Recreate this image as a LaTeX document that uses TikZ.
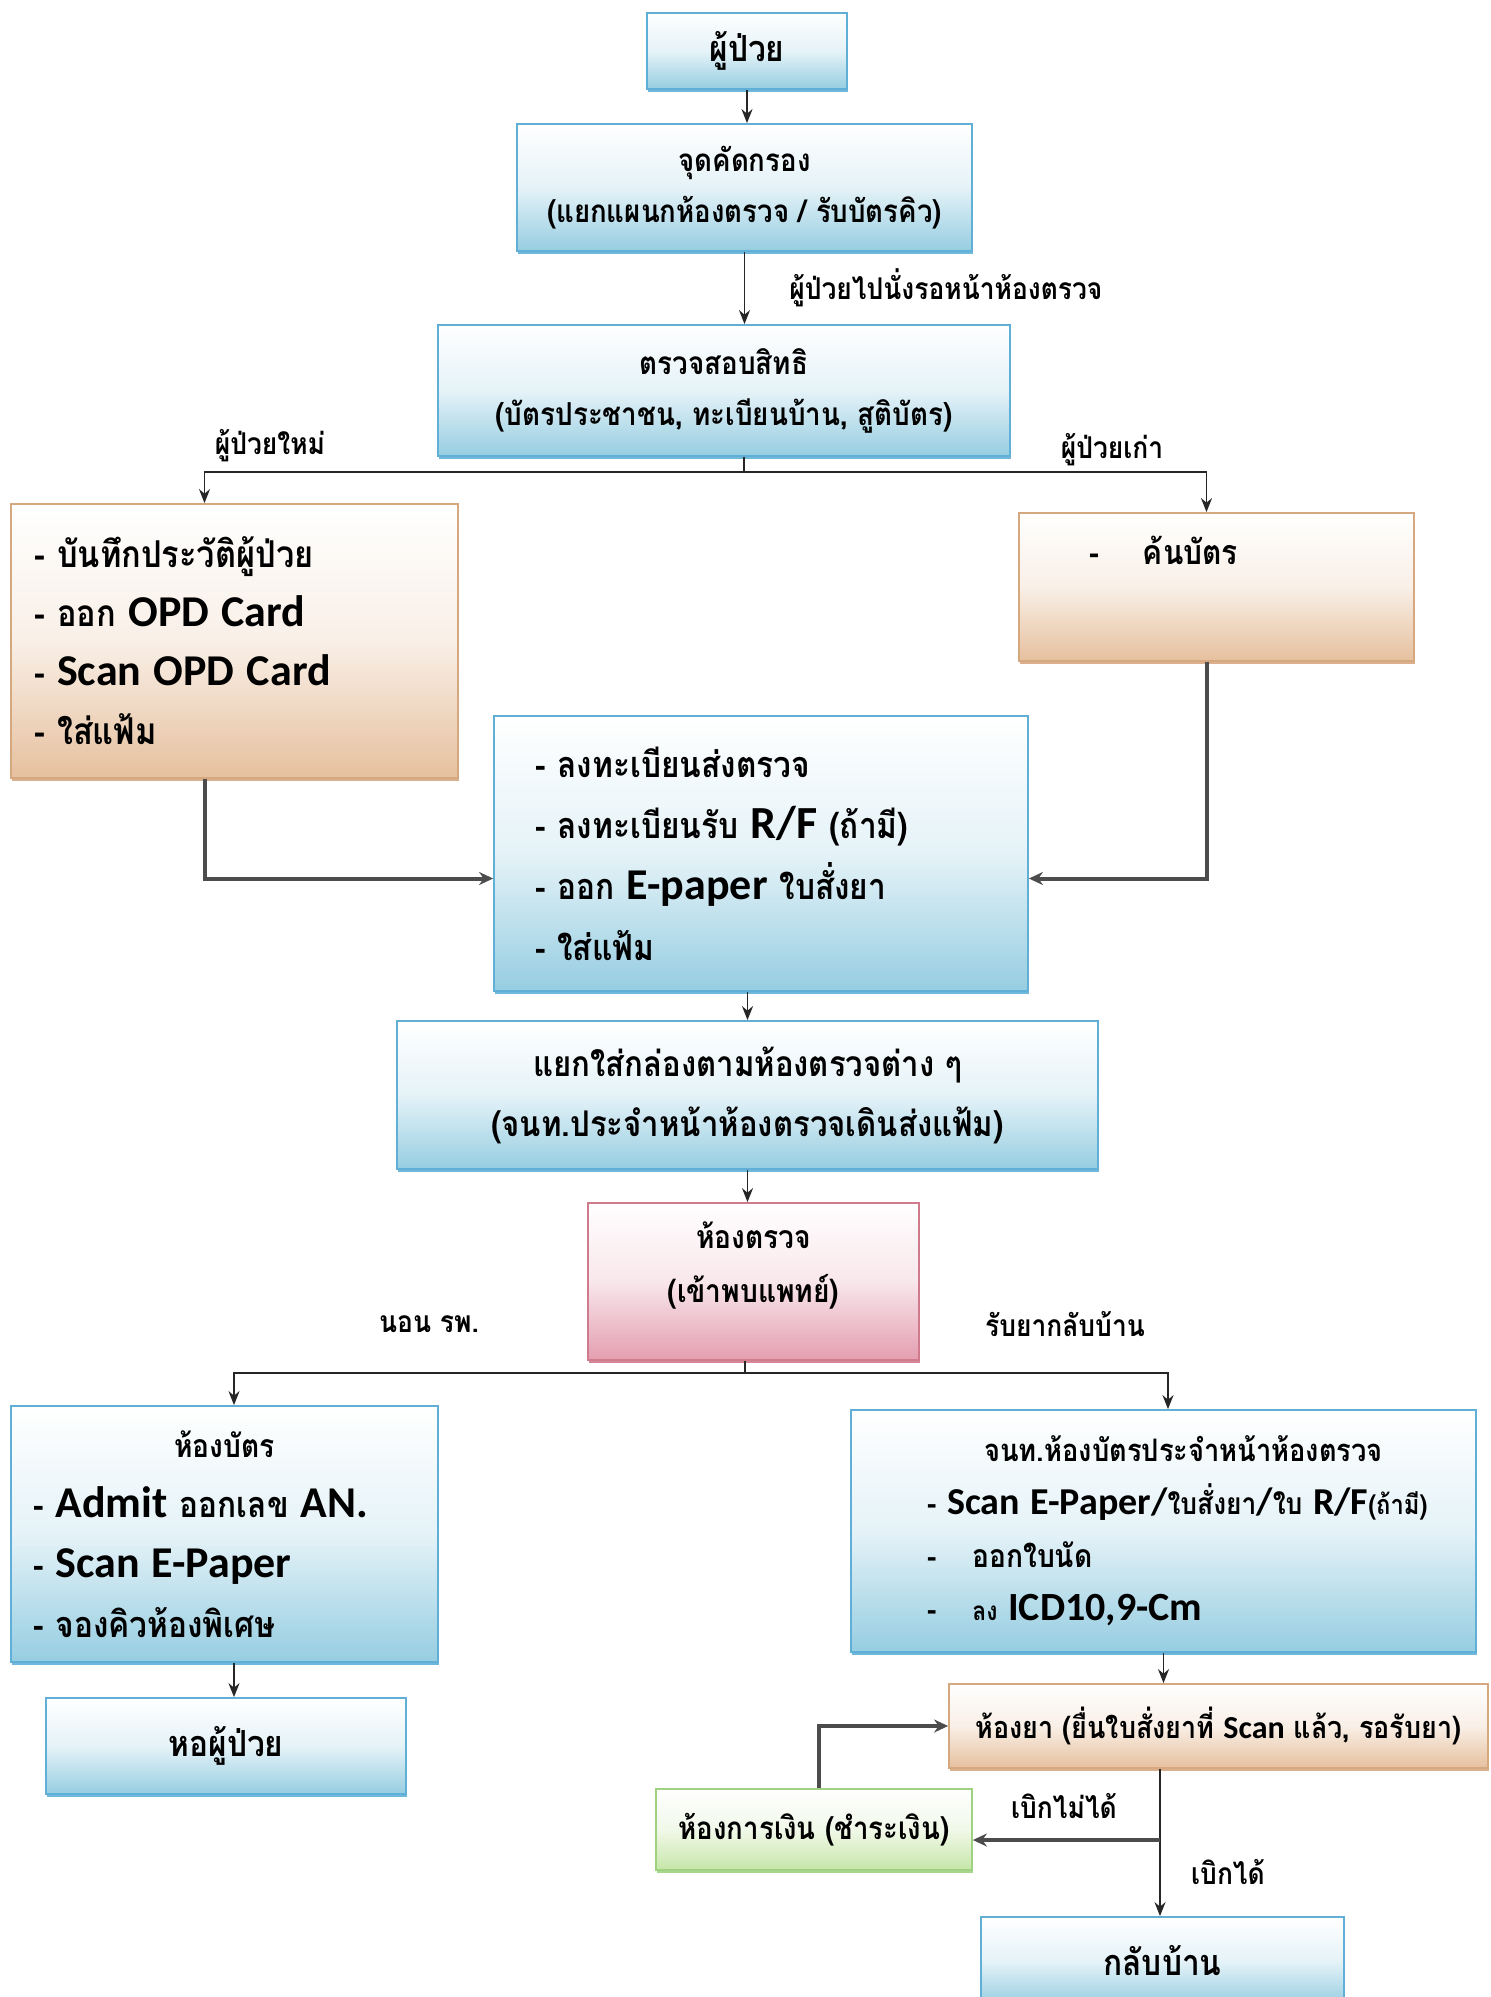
\documentclass[tikz,border=0pt]{standalone}
\usepackage{fontspec}
\setmainfont{Loma}[Script=Thai, FakeStretch=0.88]
\newfontfamily\latin{Carlito}
\definecolor{blueFill}{RGB}{150, 205, 225}
\definecolor{blueLine}{RGB}{95, 175, 215}
\definecolor{tanFill}{RGB}{230, 192, 158}
\definecolor{tanLine}{RGB}{214, 168, 128}
\definecolor{pinkFill}{RGB}{228, 158, 176}
\definecolor{pinkLine}{RGB}{208, 122, 142}
\definecolor{greenFill}{RGB}{198, 230, 168}
\definecolor{greenLine}{RGB}{158, 210, 128}
\usepackage{tikz}
\usetikzlibrary{positioning, calc, arrows.meta, shadows}

\newcommand\fsz[2]{\fontsize{#1}{#2}\selectfont}
\newcommand\eng[2]{{\latin\bfseries\fontsize{#1}{#1}\selectfont #2}}

\begin{document}
\begin{tikzpicture}[
    x=0.5pt, y=-0.5pt,
    box/.style={rectangle, line width=0.9pt, inner sep=0pt, align=center,
                font=\bfseries},
    bluebox/.style={box, draw=blueLine, top color=white, bottom color=blueFill,
                middle color=blueFill!25,
                drop shadow={shadow xshift=0.6pt, shadow yshift=-1.6pt,
                fill=blueLine, opacity=0.9}},
    tanbox/.style={box, draw=tanLine, top color=white, bottom color=tanFill,
                middle color=tanFill!25,
                drop shadow={shadow xshift=0.6pt, shadow yshift=-1.6pt,
                fill=tanLine, opacity=0.9}},
    pinkbox/.style={box, draw=pinkLine, top color=white, bottom color=pinkFill,
                middle color=pinkFill!25,
                drop shadow={shadow xshift=0.6pt, shadow yshift=-1.6pt,
                fill=pinkLine, opacity=0.9}},
    greenbox/.style={box, draw=greenLine, top color=white, bottom color=greenFill,
                middle color=greenFill!25,
                drop shadow={shadow xshift=0.6pt, shadow yshift=-1.6pt,
                fill=greenLine, opacity=0.9}},
    lbl/.style={inner sep=0pt, font=\fsz{15}{18}\bfseries},
    line/.style={line width=0.9pt, draw=black!85},
    arrow/.style={line, -{Stealth[length=7pt, width=5.5pt]}},
    fatarrow/.style={line, line width=2pt, draw=black!70,
                -{Stealth[length=7pt, width=6.5pt]}},
  ]
    \useasboundingbox (0,0) rectangle (1490,1997);

    % top of the chart
    \node[bluebox, minimum width=100pt, minimum height=38pt,
          font=\fsz{18}{22}\bfseries] (PAT) at (747,51) {ผู้ป่วย};
    \node[bluebox, minimum width=227.5pt, minimum height=63.5pt,
          font=\fsz{15.7}{25.5}\bfseries] (SCR) at (744.5,187.5)
         {จุดคัดกรอง\\(แยกแผนกห้องตรวจ / รับบัตรคิว)};
    \node[bluebox, minimum width=286pt, minimum height=65.5pt,
          font=\fsz{15.8}{25.5}\bfseries] (CHK) at (724,390.5)
         {ตรวจสอบสิทธิ\\(บัตรประชาชน, ทะเบียนบ้าน, สูติบัตร)};

    % new and old patients
    \node[tanbox, minimum width=223.5pt, minimum height=137pt, align=left,
          text width=200.5pt, font=\fsz{18.5}{29.5}\bfseries] (NEW) at (234.5,641)
         {- บันทึกประวัติผู้ป่วย\\
          - ออก \eng{22}{OPD Card}\\
          - \eng{22}{Scan OPD Card}\\
          - ใส่แฟ้ม};
    \node[tanbox, minimum width=197.5pt, minimum height=74pt,
          text height=12pt, text depth=35pt,
          font=\fsz{17}{22}\bfseries] (OLD) at (1216.5,587)
         {-\hspace{22pt}ค้นบัตร\hspace*{53pt}};

    \node[bluebox, minimum width=267pt, minimum height=137.5pt, align=left,
          text width=226pt, font=\fsz{18}{30.5}\bfseries] (REG) at (761,853.5)
         {- ลงทะเบียนส่งตรวจ\\
          - ลงทะเบียนรับ \eng{23}{R/F} (ถ้ามี)\\
          - ออก \eng{22}{E-paper} ใบสั่งยา\\
          - ใส่แฟ้ม};
    \node[bluebox, minimum width=350.5pt, minimum height=74pt,
          font=\fsz{17.7}{30}\bfseries] (SORT) at (747.5,1095)
         {แยกใส่กล่องตามห้องตรวจต่าง ๆ\\(จนท.ประจำหน้าห้องตรวจเดินส่งแฟ้ม)};
    \node[pinkbox, minimum width=165.5pt, minimum height=78.5pt,
          font=\fsz{16}{27}\bfseries] (EXAM) at (753.5,1281.5)
         {ห้องตรวจ\\(เข้าพบแพทย์)\\[-8pt]};

    % admit or go home
    \node[bluebox, minimum width=213.5pt, minimum height=128pt, align=left,
          text width=191.5pt, font=\fsz{18}{30}\bfseries] (ADM) at (224.5,1534)
         {\makebox[\hsize]{\fsz{16}{30}ห้องบัตร}\\
          - \eng{22}{Admit} ออกเลข \eng{22}{AN.}\\
          - \eng{22}{Scan E-Paper}\\
          - จองคิวห้องพิเศษ};
    \node[bluebox, minimum width=180pt, minimum height=48pt,
          font=\fsz{18}{22}\bfseries] (WARD) at (226,1746) {หอผู้ป่วย};

    \node[bluebox, minimum width=312.5pt, minimum height=121pt, align=left,
          text width=236.5pt, font=\fsz{16}{26.5}\bfseries] (CARD) at (1163.5,1531)
         {\makebox[\hsize]{\hspace{20pt}\fsz{15.5}{26.5}จนท.ห้องบัตรประจำหน้าห้องตรวจ}\\
          \mbox{- \eng{19}{Scan E-Paper/}{\fsz{15}{26.5}ใบสั่งยา}\eng{19}{/}{\fsz{15}{26.5}ใบ}
          \eng{19}{R/F}{\fsz{13.5}{26.5}(ถ้ามี)}}\\
          -\hspace{18pt}ออกใบนัด\\
          -\hspace{18pt}{\fsz{13}{26.5}ลง} \eng{20}{ICD10,9-Cm}};
    \node[tanbox, minimum width=269.5pt, minimum height=42pt,
          font=\fsz{15.3}{18}\bfseries] (PHAR) at (1218.5,1726)
         {ห้องยา (ยื่นใบสั่งยาที่ \eng{16}{Scan} แล้ว, รอรับยา)};
    \node[greenbox, minimum width=158pt, minimum height=40.5pt,
          font=\fsz{15.7}{18}\bfseries] (CASH) at (814,1829.5)
         {ห้องการเงิน (ชำระเงิน)};
    \node[bluebox, minimum width=181.5pt, minimum height=44pt,
          font=\fsz{18}{22}\bfseries] (HOME) at (1162.5,1961) {กลับบ้าน};

    % labels beside the lines
    \node[lbl] (NEWLBL) at (270,446) {ผู้ป่วยใหม่};
    \node[lbl] (OLDLBL) at (1112,450) {ผู้ป่วยเก่า};
    \node[lbl] (ADMLBL) at (429,1324) {นอน รพ.};
    \node[lbl] (HOMELBL) at (1065,1324) {รับยากลับบ้าน};
    \node[lbl] (NOPAY) at (1064,1806) {เบิกไม่ได้};
    \node[lbl] (PAY) at (1228,1872) {เบิกได้};

    \coordinate (split1) at (744,472);
    \coordinate (split2) at (745,1373);
    \coordinate (split3) at (1160,1840);

    \draw[arrow] (PAT.south) -- (PAT.south |- SCR.north);
    \draw[arrow] (SCR.south) -- node[lbl, right=22pt] {ผู้ป่วยไปนั่งรอหน้าห้องตรวจ}
         (SCR.south |- CHK.north);
    \draw[line] (CHK.south -| split1) -- (split1);
    \draw[arrow] (split1) -| ([xshift=-15pt]NEW.north);
    \draw[arrow] (split1) -| ([xshift=-5pt]OLD.north);
    \draw[fatarrow] ([xshift=-15pt]NEW.south) |- ([yshift=-12.5pt]REG.west);
    \draw[fatarrow] ([xshift=-5pt]OLD.south) |- ([yshift=-12.5pt]REG.east);
    \draw[arrow] (SORT.north |- REG.south) -- (SORT.north);
    \draw[arrow] (SORT.south) -- (SORT.south |- EXAM.north);

    \draw[line] (EXAM.south -| split2) -- (split2);
    \draw[arrow] (split2) -| ([xshift=4.75pt]ADM.north);
    \draw[arrow] (split2) -| ([xshift=2.25pt]CARD.north);
    \draw[arrow] ([xshift=4.75pt]ADM.south) -- ([xshift=4.75pt]ADM.south |- WARD.north);
    \draw[arrow] (CARD.south) -- (CARD.south |- PHAR.north);

    \draw[arrow] (split3 |- PHAR.south) -- (split3 |- HOME.north);
    \draw[fatarrow] (split3) -- (split3 -| CASH.east);
    \draw[fatarrow] ([xshift=2.5pt]CASH.north) |- (PHAR.west);
  \end{tikzpicture}
\end{document}
